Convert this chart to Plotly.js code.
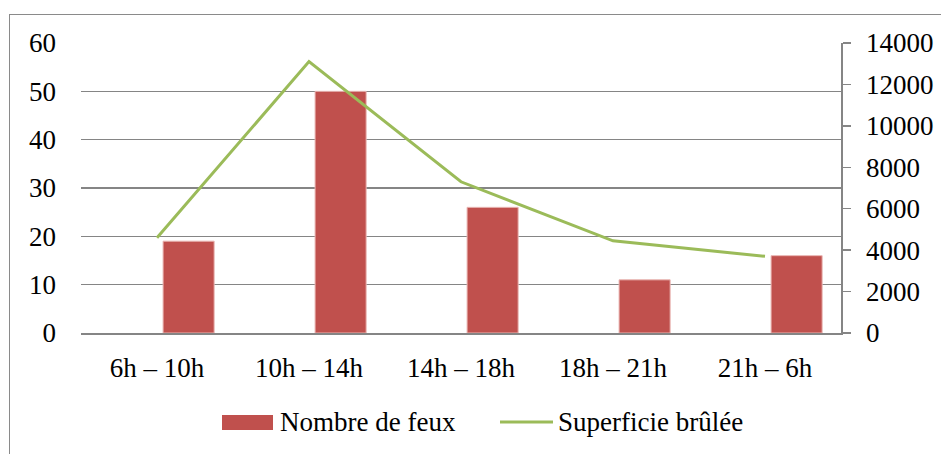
<!DOCTYPE html>
<html>
<head>
<meta charset="utf-8">
<script src="https://cdn.plot.ly/plotly-3.0.1.min.js"></script>
<style>
  html, body { margin: 0; padding: 0; background: #fff; }
  #wrap { position: relative; width: 941px; height: 454px; overflow: hidden; }
  #frame { position: absolute; left: 9px; top: 14px; width: 1000px; height: 500px;
           border-top: 1.5px solid #8a8a8a; border-left: 1.5px solid #8a8a8a; box-sizing: border-box; }
  #chart { position: absolute; left: 0; top: 0; width: 941px; height: 454px; }
</style>
</head>
<body>
<div id="wrap">
  <div id="frame"></div>
  <div id="chart"></div>
</div>
<script>
const categories = ["6h – 10h", "10h – 14h", "14h – 18h", "18h – 21h", "21h – 6h"];
const nombreFeux = [19, 50, 26, 11, 16];
const superficieBrulee = [4600, 13100, 7300, 4450, 3700];
const leftTicks = [0, 10, 20, 30, 40, 50, 60];
const rightTicks = [0, 2000, 4000, 6000, 8000, 10000, 12000, 14000];
const seriesNames = ["Nombre de feux", "Superficie brûlée"];

const FONT = "Liberation Serif";
const fs = 27;

const traces = [
  {
    type: "bar", x: categories, y: nombreFeux, name: seriesNames[0],
    width: 0.336, offset: 0.04,
    marker: { color: "#C0504D", line: { color: "#e9b6b4", width: 1 } },
    showlegend: false, hoverinfo: "x+y"
  },
  {
    type: "scatter", mode: "lines", x: categories, y: superficieBrulee, name: seriesNames[1],
    yaxis: "y2", line: { color: "#9BBB59", width: 3 },
    showlegend: false
  }
];

const L = 81, R = 841, T = 43, B = 333;
const px2x = p => (p - L) / (R - L);
const px2y = p => (B - p) / (B - T);

const layout = {
  width: 941, height: 454,
  margin: { l: L, r: 941 - R, t: T, b: 454 - B },
  paper_bgcolor: "rgba(0,0,0,0)", plot_bgcolor: "rgba(0,0,0,0)",
  font: { family: FONT, size: fs, color: "#000" },
  xaxis: {
    type: "category", range: [-0.5, 4.5],
    showline: true, linecolor: "#858585", linewidth: 1.5,
    ticks: "", showgrid: false, ticklabelstandoff: 10,
    tickfont: { family: FONT, size: fs, color: "#000" }
  },
  yaxis: {
    range: [0, 60], tickvals: leftTicks, ticktext: leftTicks.map(String),
    showgrid: true, gridcolor: "#858585", gridwidth: 1.5,
    showline: false, ticks: "", zeroline: false, ticklabelstandoff: 24,
    tickfont: { family: FONT, size: fs, color: "#000" }
  },
  yaxis2: {
    overlaying: "y", side: "right", range: [0, 14000],
    tickvals: rightTicks, ticktext: rightTicks.map(String),
    showgrid: false, zeroline: false,
    showline: true, linecolor: "#858585", linewidth: 1.5,
    ticks: "outside", ticklen: 8, tickcolor: "#858585", tickwidth: 1.5,
    ticklabelstandoff: 10,
    tickfont: { family: FONT, size: fs, color: "#000" }
  },
  shapes: [
    { type: "rect", xref: "paper", yref: "paper",
      x0: px2x(222), x1: px2x(273), y0: px2y(430), y1: px2y(415),
      fillcolor: "#C0504D", line: { width: 0 } },
    { type: "line", xref: "paper", yref: "paper",
      x0: px2x(500), x1: px2x(553), y0: px2y(422), y1: px2y(422),
      line: { color: "#9BBB59", width: 3 } }
  ],
  annotations: [
    { xref: "paper", yref: "paper", x: px2x(278), y: px2y(422), xanchor: "left", yanchor: "middle",
      text: seriesNames[0], showarrow: false, font: { family: FONT, size: fs, color: "#000" } },
    { xref: "paper", yref: "paper", x: px2x(556), y: px2y(422), xanchor: "left", yanchor: "middle",
      text: seriesNames[1], showarrow: false, font: { family: FONT, size: fs, color: "#000" } }
  ],
  showlegend: false
};

Plotly.newPlot("chart", traces, layout, { displayModeBar: false, staticPlot: true });
</script>
</body>
</html>
